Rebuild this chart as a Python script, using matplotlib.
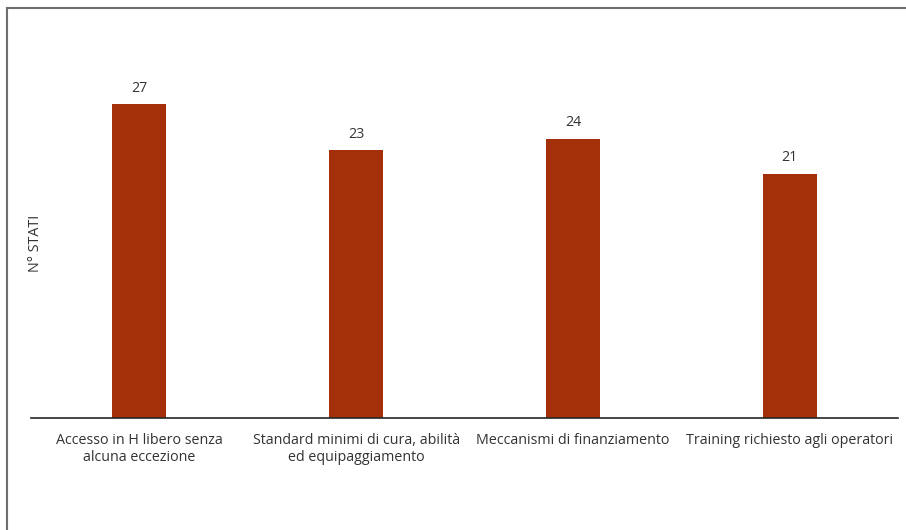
import matplotlib.pyplot as plt
from matplotlib.lines import Line2D

# Data
categories = ['Accesso in H libero senza\nalcuna eccezione',
              'Standard minimi di cura, abilità\ned equipaggiamento',
              'Meccanismi di finanziamento',
              'Training richiesto agli operatori']
values = [27, 23, 24, 21]

bar_color = '#A33008'
text_color = '#333333'
plt.rcParams['font.family'] = ['Open Sans', 'DejaVu Sans']

W, H = 906, 530
fig = plt.figure(figsize=(W / 100, H / 100), dpi=100)
ax = fig.add_axes([31 / W, (H - 418) / H, (898 - 31) / W, (418 - 69) / H])

x = range(len(categories))
bars = ax.bar(x, values, width=0.25, color=bar_color)
ax.set_xlim(-0.5, len(categories) - 0.5)
ax.set_ylim(0, 30)

# value labels above bars
for xi, v in zip(x, values):
    ax.annotate(str(v), (xi, v), xytext=(0, 6), textcoords='offset points',
                ha='center', va='bottom', fontsize=10.3, color=text_color)

ax.set_xticks(list(x))
ax.set_xticklabels(categories, fontsize=10.3, color=text_color, linespacing=1.2)
ax.tick_params(axis='x', length=0, pad=11)
ax.set_yticks([])
ax.set_ylabel('N° STATI', fontsize=10.3, color=text_color, labelpad=0)
ax.yaxis.set_label_coords(0.014, 0.5)

for side in ['top', 'right', 'left']:
    ax.spines[side].set_visible(False)
ax.spines['bottom'].set_color('#262626')
ax.spines['bottom'].set_linewidth(1.2)

# frame around the chart (top and left edges visible)
fig.add_artist(Line2D([7 / W, 1], [1 - 8 / H, 1 - 8 / H], color='#6e6e6e', lw=1.5,
                      transform=fig.transFigure))
fig.add_artist(Line2D([7 / W, 7 / W], [0, 1 - 8 / H], color='#6e6e6e', lw=1.5,
                      transform=fig.transFigure))

fig.savefig('out.png', dpi=100)
